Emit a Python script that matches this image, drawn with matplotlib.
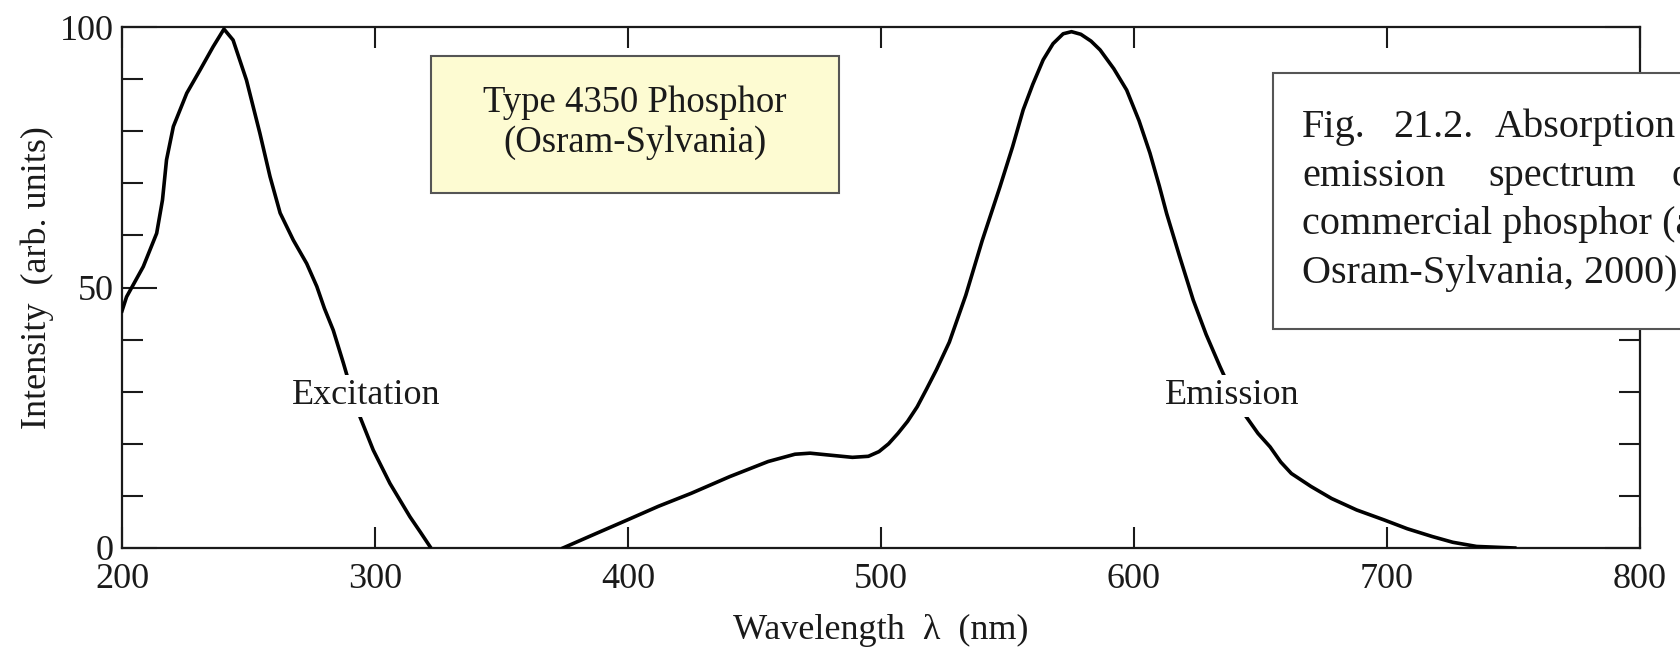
import numpy as np
import matplotlib
matplotlib.use("Agg")
import matplotlib.pyplot as plt
from matplotlib.patches import Rectangle
from matplotlib.ticker import MultipleLocator

plt.rcParams['font.family'] = ['Liberation Serif', 'DejaVu Serif']

# excitation spectrum (nm, arb. units)
exc_wl = [200, 201.8, 208.4, 213.7, 216, 217.6, 220.3, 225.6, 230.8, 236, 240.3,
          243.9, 249.2, 254.5, 258.5, 262.5, 267.7, 273, 277, 280, 283.5, 287.5,
          290.5, 293.8, 299.3, 305.9, 313.8, 318, 321.7]
exc_int = [45.5, 48.2, 54, 60.4, 66.8, 74.5, 80.9, 87.3, 91.7, 96.2, 99.6,
           97.5, 89.8, 79.6, 71.3, 64.3, 59.1, 54.6, 50.2, 46, 41.8, 35.5,
           30.5, 25.5, 18.8, 12.4, 6, 3, 0.3]

# emission spectrum
emi_wl = [374.3, 387, 399.8, 412, 425, 440.2, 455.4, 466, 472, 478.2, 488.7, 495,
          499.2, 503, 506.7, 510.5, 514.3, 518, 521.9, 527, 533.5, 540, 547, 552,
          556.2, 560, 564.1, 568, 572, 575.3, 579, 583, 586.6, 592, 597.1, 602,
          606.3, 610, 612.9, 618, 623.4, 628.5, 634, 639, 643.9, 649, 653.8, 658,
          662.2, 670, 678.1, 688, 698.8, 708, 717.9, 726, 735.4, 750.5]
emi_int = [0, 2.7, 5.4, 8, 10.5, 13.7, 16.6, 18, 18.2, 17.9, 17.4, 17.6,
           18.5, 20, 22, 24.3, 27.1, 30.5, 34.2, 39.5, 48.5, 59, 69.3, 77,
           84.1, 89, 93.7, 96.8, 98.7, 99.1, 98.6, 97.3, 95.6, 92, 87.9, 82,
           75.8, 69.5, 64.2, 56, 47.6, 41, 34.8, 29.5, 25.5, 22, 19.4, 16.5,
           14.3, 11.8, 9.5, 7.3, 5.4, 3.7, 2.2, 1.1, 0.3, 0]

x_ticks = [200, 300, 400, 500, 600, 700, 800]
y_ticks = [0, 50, 100]

box_lines = ["Type 4350 Phosphor", "(Osram-Sylvania)"]
caption_words = [["Fig.", "21.2.", "Absorption", "and"],
                 ["emission", "spectrum", "of", "a"]]
caption_rest = ["commercial phosphor (after", "Osram-Sylvania, 2000)."]

ink = '#1a1a1a'
W, H = 1681, 648

fig = plt.figure(figsize=(W / 100, H / 100), dpi=100)
ax = fig.add_axes([122 / W, 1 - 548 / H, 1518 / W, 521 / H])

ax.plot(exc_wl, exc_int, color='black', lw=2.6, zorder=3)
ax.plot(emi_wl, emi_int, color='black', lw=2.6, zorder=3)

ax.set_xlim(200, 800)
ax.set_ylim(0, 100)
ax.set_xticks(x_ticks)
ax.set_yticks(y_ticks)
ax.yaxis.set_minor_locator(MultipleLocator(10))
ax.tick_params(which='both', direction='in', top=True, right=True,
               color=ink, width=1.5, labelsize=26, labelcolor=ink)
ax.tick_params(axis='x', which='major', length=15, pad=11)
ax.tick_params(axis='y', which='major', length=25, pad=6)
ax.tick_params(axis='y', which='minor', length=15)
for s in ax.spines.values():
    s.set_linewidth(1.6)
    s.set_color(ink)

ax.set_xlabel("Wavelength  λ  (nm)", fontsize=26, color=ink, labelpad=13)
ax.set_ylabel("Intensity  (arb. units)", fontsize=26, color=ink)
ax.yaxis.set_label_coords(-0.045, 0.52)

# curve labels with a white patch that breaks the line
lab_box = dict(boxstyle='square,pad=0.12', fc='white', ec='none')
ax.text(296.4, 27.6, "Excitation", fontsize=26, ha='center', va='baseline',
        color=ink, bbox=lab_box, zorder=4)
ax.text(639, 27.6, "Emission", fontsize=26, ha='center', va='baseline',
        color=ink, bbox=lab_box, zorder=4)

# yellow title box
ax.add_patch(Rectangle((431 / W, 1 - 193 / H), 408 / W, 137 / H,
                       transform=fig.transFigure, fc='#fdfbd2', ec='#555555',
                       lw=1.5, zorder=5))
fig.text(635 / W, 1 - 112 / H, box_lines[0], fontsize=26.5, ha='center',
         va='baseline', color=ink, zorder=6)
fig.text(635 / W, 1 - 152 / H, box_lines[1], fontsize=26.5, ha='center',
         va='baseline', color=ink, zorder=6)

# caption box running off the right edge
ax.add_patch(Rectangle((1273 / W, 1 - 329 / H), 500 / W, 256 / H,
                       transform=fig.transFigure, fc='white', ec='#555555',
                       lw=1.5, zorder=5, clip_on=False))
word_x = [[1302, 1393, 1495, 1700], [1302, 1488, 1672, 1730]]
for row, (words, xs) in enumerate(zip(caption_words, word_x)):
    for w, xp in zip(words, xs):
        fig.text(xp / W, 1 - (137 + 48.7 * row) / H, w, fontsize=29,
                 ha='left', va='baseline', color=ink, zorder=6)
for i, line in enumerate(caption_rest):
    fig.text(1302 / W, 1 - (137 + 48.7 * (i + 2)) / H, line, fontsize=29,
             ha='left', va='baseline', color=ink, zorder=6)

fig.savefig("out.png", dpi=100)
